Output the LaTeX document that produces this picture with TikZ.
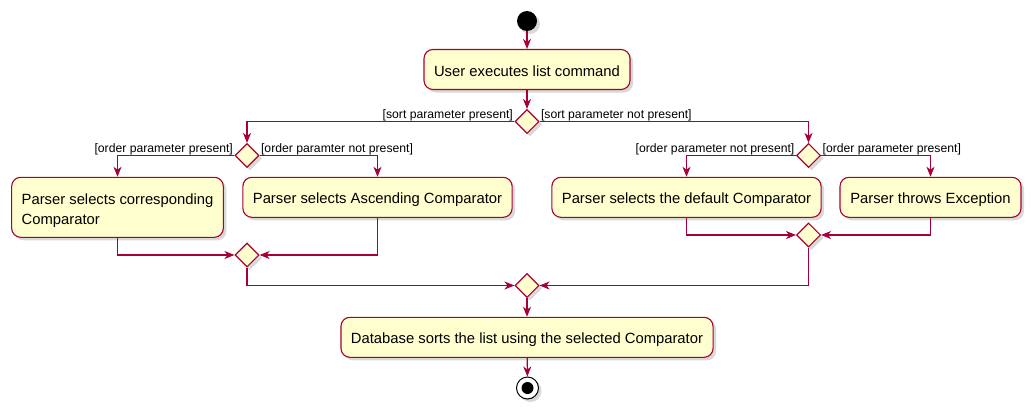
\documentclass[tikz,border=0pt]{standalone}
\usepackage{fontspec}
\setmainfont{Liberation Sans}
\usetikzlibrary{arrows.meta,shadows,shapes.geometric}
\definecolor{umlred}{HTML}{A80036}
\definecolor{umlfill}{HTML}{FEFECE}

\begin{document}
\begin{tikzpicture}[x = 1pt, y = -1pt,
	shade/.style = {drop shadow = {shadow xshift = 3pt, shadow yshift = -3pt, opacity = 0.3}},
	box/.style = {draw = umlred, fill = umlfill, line width = 1.1pt, rounded corners = 9pt, minimum height = 40pt, inner xsep = 10pt, text height = 13.2pt, text depth = 0pt, font = \fontsize{14.8}{20}\selectfont, shade},
	choice/.style = {diamond, draw = umlred, fill = umlfill, line width = 1.1pt, minimum width = 24pt, minimum height = 24pt, inner sep = 0pt, shade},
	flow/.style = {draw = umlred, line width = 1.1pt, -{Stealth[length = 10pt, width = 8pt, inset = 3pt]}},
	guard/.style = {font = \fontsize{12.2}{14}\selectfont, inner sep = 1pt, yshift = 3.5pt}]
	\useasboundingbox (0, 0) rectangle (1036, 415);
%%%%%%%%%%%
	\node[circle, fill = black, minimum size = 20pt, inner sep = 0pt, shade] (start) at (527, 21) {};
	\node[box, minimum width = 206pt] (listcmd) at (527, 69.5) {User executes list command};
	\node[choice] (sortif) at (527, 121.5) {};
	\node[choice] (orderifL) at (247, 155.5) {};
	\node[choice] (orderifR) at (808.5, 155.5) {};
	\node[box, minimum width = 211pt, minimum height = 60pt, align = left, text height = 34pt] (corresp) at (117.5, 207.3) {Parser selects corresponding\\Comparator};
	\node[box, minimum width = 268pt] (ascend) at (377.5, 197.3) {Parser selects Ascending Comparator};
	\node[box, minimum width = 269pt] (default) at (686.5, 197.3) {Parser selects the default Comparator};
	\node[box, minimum width = 181pt] (throwexc) at (930.5, 197.3) {Parser throws Exception};
	\node[choice] (mergeL) at (247, 255) {};
	\node[choice] (mergeR) at (808.5, 235) {};
	\node[choice] (mergeall) at (527, 285.5) {};
	\node[box, minimum width = 370pt] (sortlist) at (527, 337.3) {Database sorts the list using the selected Comparator};
	\node[circle, draw = black, fill = white, line width = 1pt, minimum size = 22pt, inner sep = 0pt, shade] (stop) at (527.5, 388) {};
	\node[circle, fill = black, minimum size = 12pt, inner sep = 0pt] (stopdot) at (stop) {};
%%%%%%%%%%%
	\draw[flow] (start) -- (listcmd);
	\draw[flow] (listcmd) -- (sortif);
	\draw[flow] (sortif.west) -| node[guard, pos = 0, anchor = base east] {[sort parameter present]} (orderifL.north);
	\draw[flow] (sortif.east) -| node[guard, pos = 0, anchor = base west] {[sort parameter not present]} (orderifR.north);
	\draw[flow] (orderifL.west) -| node[guard, pos = 0, anchor = base east] {[order parameter present]} (corresp.north);
	\draw[flow] (orderifL.east) -| node[guard, pos = 0, anchor = base west] {[order paramter not present]} (ascend.north);
	\draw[flow] (orderifR.west) -| node[guard, pos = 0, anchor = base east] {[order parameter not present]} (default.north);
	\draw[flow] (orderifR.east) -| node[guard, pos = 0, anchor = base west] {[order parameter present]} (throwexc.north);
%%%%%%%%%%%
	\draw[flow] (corresp.south) |- (mergeL.west);
	\draw[flow] (ascend.south) |- (mergeL.east);
	\draw[flow] (default.south) |- (mergeR.west);
	\draw[flow] (throwexc.south) |- (mergeR.east);
	\draw[flow] (mergeL.south) |- (mergeall.west);
	\draw[flow] (mergeR.south) |- (mergeall.east);
	\draw[flow] (mergeall) -- (sortlist);
	\draw[flow] (sortlist) -- (stop);
\end{tikzpicture}
\end{document}
